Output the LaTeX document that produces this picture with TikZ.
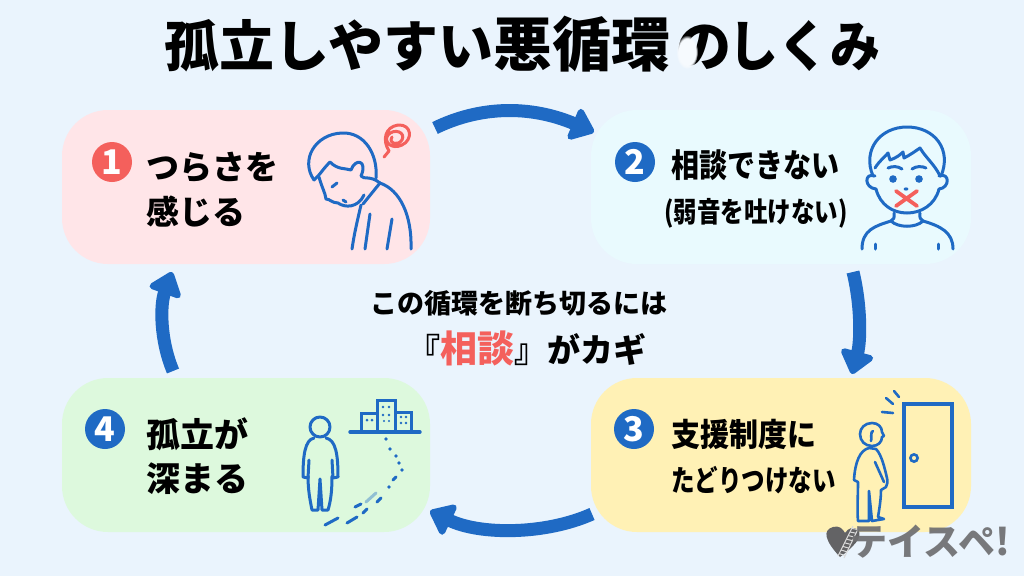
\documentclass[tikz,border=0pt]{standalone}
\usepackage{fontspec}
\setmainfont{Noto Sans CJK JP}[BoldFont={Noto Sans CJK JP Black}]
\usetikzlibrary{arrows.meta,shapes.geometric,fadings,calc}
\definecolor{bgc}{HTML}{EAF4FD}
\definecolor{blu}{HTML}{1F6AC4}
\definecolor{redc}{HTML}{F4605C}
\definecolor{pinkb}{HTML}{FFE5E8}
\definecolor{cyanb}{HTML}{E9FAFE}
\definecolor{yelb}{HTML}{FFF1B5}
\definecolor{greb}{HTML}{DDF9DD}
\definecolor{gry}{HTML}{6E6E70}
\newcommand{\tallt}[2][1.16]{\scalebox{1}[#1]{#2}}
\newcommand{\fsz}[1]{\fontsize{#1}{#1}\selectfont}
\tikzset{
 card/.style={minimum width=#1,minimum height=154pt,rounded corners=46pt,inner sep=0pt},
 badge/.style={circle,minimum size=40pt,inner sep=0pt,text=white,font=\bfseries\fontsize{34}{34}\selectfont},
 lab/.style={font=\bfseries\fontsize{#1}{#1}\selectfont,inner sep=0pt,anchor=west,text=black},
 flow/.style={blu,line width=13pt,-{Triangle[round,length=25pt,width=38pt]}},
 ic/.style={blu,line width=3pt,line cap=round,line join=round},
 icr/.style={redc,line width=3pt,line cap=round,line join=round},
 ict/.style={ic,line width=2.6pt},
}
\begin{document}
\begin{tikzpicture}[x=1pt,y=-1pt]
\useasboundingbox (0,0) rectangle (1024,576);
\fill[bgc] (0,0) rectangle (1024,576);
% title
\node[font=\bfseries\fsz{55},inner sep=0pt,anchor=base west] (title) at (164,66) {孤立しやすい{\fsz{59}悪循環}\kern6pt の\kern-3pt{\fsz{50}\tallt[1.1]{しくみ}}};
\fill[white!55!bgc,path fading=circle with fuzzy edge 20 percent] (687,52) ellipse (11 and 17);
% cards
\node[card=368pt,fill=pinkb] (c1) at (246,187) {};
\node[card=380pt,fill=cyanb] (c2) at (781,187) {};
\node[card=380pt,fill=yelb] (c3) at (781,455) {};
\node[card=368pt,fill=greb] (c4) at (246,455) {};
% badges
\node[badge,fill=redc] (b1) at (112,162) {1};
\node[badge,fill=blu] (b2) at (635,162) {2};
\node[badge,fill=blu] (b3) at (634,429) {3};
\node[badge,fill=blu] (b4) at (105,429) {4};
% labels
\node[lab=33] (t1a) at (146,167) {つらさを};
\node[lab=33] (t1b) at (146,212) {感じる};
\node[lab=28] (t2a) at (671,165) {\tallt{相談できない}};
\node[lab=23.5] (t2b) at (664,213) {\tallt[1.2]{(弱音を吐けない)}};
\node[lab=29] (t3a) at (671,434) {\tallt[1.1]{支援制度に}};
\node[lab=23.5] (t3b) at (671,480) {\tallt[1.25]{たどりつけない}};
\node[lab=34] (t4a) at (146,434) {孤立が};
\node[lab=34] (t4b) at (146,479) {深まる};
% centre
\node[font=\bfseries\fsz{27},inner sep=0pt] (m1) at (519,303) {この循環を断ち切るには};
\node[font=\bfseries\fsz{33},inner sep=0pt] (m2) at (527,348) {『{\color{redc}\fsz{37}相談}』がカギ};
% flow arrows
\coordinate (a1s) at (435,128);
\coordinate (a1e) at (594,132);
\coordinate (a2s) at (853,272);
\coordinate (a2e) at (852,374);
\coordinate (a3s) at (592,514);
\coordinate (a3e) at (430,511);
\coordinate (a4s) at (173,371);
\coordinate (a4e) at (172,272);
\draw[flow] (a1s) .. controls (480,106) and (530,105) .. (a1e);
\draw[flow] (a2s) .. controls (861,305) and (861,340) .. (a2e);
\draw[flow] (a3s) .. controls (545,535) and (480,535) .. (a3e);
\draw[flow] (a4s) .. controls (160,340) and (160,305) .. (a4e);
% icon 1
\draw[ic] (314,180) .. controls (300,160) and (315,134) .. (342,133) .. controls (365,132) and (378,155) .. (376,178);
\draw[ic] (314,180) .. controls (320,175) and (322,170) .. (330,162) .. controls (338,170) and (345,168) .. (351,170) .. controls (355,158) and (368,160) .. (361,176) .. controls (364,180) and (370,175) .. (380,183);
\draw[ic] (319,177) .. controls (322,188) and (325,192) .. (326,199) .. controls (330,199) and (332,203) .. (338,203) .. controls (345,208) and (358,208) .. (364,195);
\draw[ic] (332,187) -- (337,183);
\draw[ic] (343,200) -- (346,202);
\draw[ic] (380,183) .. controls (400,190) and (412,215) .. (411,249);
\draw[ic] (380,183) -- (363,204);
\draw[ic] (361,205) .. controls (357,222) and (354,235) .. (352,249);
\draw[ic] (370,214) -- (365,249);
\draw[ic] (392,219) -- (387,249);
\draw[icr] (384,157) -- (389,151);
\draw[icr] (389,151) .. controls (382,140) and (385,127) .. (398,125) .. controls (412,124) and (413,140) .. (402,145) .. controls (392,150) and (383,142) .. (388,135) .. controls (394,128) and (406,132) .. (402,140) .. controls (398,146) and (388,144) .. (392,137);
% icon 2
\draw[ic] (873,176) .. controls (862,150) and (880,127) .. (907,127) .. controls (935,127) and (952,150) .. (941,176);
\draw[ic] (875,168) .. controls (880,160) and (884,158) .. (888,153) -- (890,160) .. controls (896,158) and (900,155) .. (903,152) -- (904,158) .. controls (910,155) and (914,152) .. (920,148) .. controls (926,158) and (935,165) .. (940,176);
\draw[ic] (875,176) .. controls (864,172) and (864,188) .. (876,189);
\draw[ic] (939,176) .. controls (950,172) and (950,188) .. (939,189);
\draw[ic] (876,189) .. controls (880,205) and (893,213) .. (907,213) .. controls (921,213) and (935,205) .. (939,189);
\fill[blu] (893,179) circle (3.8) (919,179) circle (3.8) (906,189) ellipse (2.4 and 1.6);
\draw[ic] (888,168) .. controls (892,166) and (898,166) .. (902,169);
\draw[ic] (912,169) .. controls (916,166) and (922,166) .. (926,168);
\draw[icr,line width=3.8pt] (896,191) -- (917,206) (917,191) -- (896,206);
\draw[ic] (894,213) .. controls (895,218) and (893,220) .. (891,221) .. controls (898,228) and (916,228) .. (923,221) .. controls (921,220) and (919,218) .. (920,213);
\draw[ic] (891,221) .. controls (875,226) and (862,230) .. (862,249);
\draw[ic] (923,221) .. controls (940,226) and (953,232) .. (953,249);
\draw[ic] (875,244) -- (875,249) (938,244) -- (938,249);
% icon 3
\draw[blu,line width=3.2pt,line join=miter] (904,404) rectangle (952,507);
\draw[blu,line width=2.6pt] (914,458) circle (3.6);
\draw[ict] (882,412) -- (893,413) (886,398) -- (893,404) (894,391) -- (899,397);
\draw[ict] (872,423) .. controls (865,423) and (860,428) .. (860,434) .. controls (860,441) and (865,446) .. (872,446) .. controls (878,446) and (882,442) .. (882,437) -- (884,436) -- (882,432) .. controls (882,427) and (878,423) .. (872,423);
\draw[ict] (873,431) .. controls (870,431) and (872,440) .. (871,441);
\draw[ict] (869,448) .. controls (860,450) and (855,462) .. (854,480) -- (858,482) .. controls (858,495) and (857,510) .. (858,521) -- (869,521) -- (869,491) -- (872,521) -- (884,519) -- (878,517) .. controls (880,505) and (881,497) .. (881,490) -- (886,487) .. controls (887,485) and (888,482) .. (887,478) .. controls (885,470) and (882,455) .. (876,449) -- (869,448);
\draw[ict] (875,462) -- (884,482);
% icon 4
\draw[ic] (320,427) circle (10);
\draw[ic] (314,438) .. controls (305,440) and (303,455) .. (303,477) -- (308,478) -- (309,460);
\draw[ic] (326,438) .. controls (336,440) and (338,455) .. (338,477) -- (333,478) -- (332,460);
\draw[ic] (308,476) .. controls (308,490) and (310,500) .. (312,510) -- (318,510) -- (320,479) -- (322,510) -- (328,510) .. controls (331,500) and (332,490) .. (332,476);
\draw[ic,line width=3.4pt] (350,432) -- (420,432);
\draw[ic,line join=miter,line cap=butt] (361,432) -- (361,413) -- (377,413) (377,432) -- (377,400) -- (395,400) -- (395,432) (395,412) -- (411,412) -- (411,432);
\fill[blu] (367,420) circle (1.5) (372,420) circle (1.5)
 (383,407) circle (1.4) (389,407) circle (1.4) (383,415) circle (1.4) (389,415) circle (1.4) (384,421) circle (1.2) (389,421) circle (1.2)
 (401,417) circle (1.4) (406,417) circle (1.4) (401,423) circle (1.4) (406,423) circle (1.4);
\fill[blu] (386,439) circle (1.9) (390,449) circle (1.9) (396,456) circle (1.9) (399,463) circle (1.9) (402,470) circle (1.9) (389,487) circle (1.9);
\draw[blu,line width=3pt,line cap=round] (396,477) -- (393,480) (377,502) -- (381,498) (355,507) -- (361,504) (363,513) -- (367,509) (347,523) -- (357,517) (325,525) -- (338,518);
\draw[blu!40!greb,line width=3pt,line cap=round] (366,502) -- (376,493);
% watermark
\fill[gry!90!black] (840,557) .. controls (825,541) and (822,530) .. (833,527) .. controls (839,525) and (843,529) .. (845,533) .. controls (848,528) and (854,526) .. (858,530) .. controls (864,537) and (852,548) .. (840,557);
\draw[white!75!gry,line width=1pt] (838,556) -- (853,526) (844,558) -- (859,527);
\foreach \t in {0.08,0.2,...,0.95}{
 \draw[white!75!gry,line width=1pt] ($(838,556)!\t!(853,526)$) -- ($(844,558)!\t!(859,527)$);
}
\node[font=\bfseries\fsz{37},text=gry,inner sep=0pt,anchor=east,opacity=.92] (wm) at (1010,542) {テイスペ!};
\end{tikzpicture}
\end{document}
